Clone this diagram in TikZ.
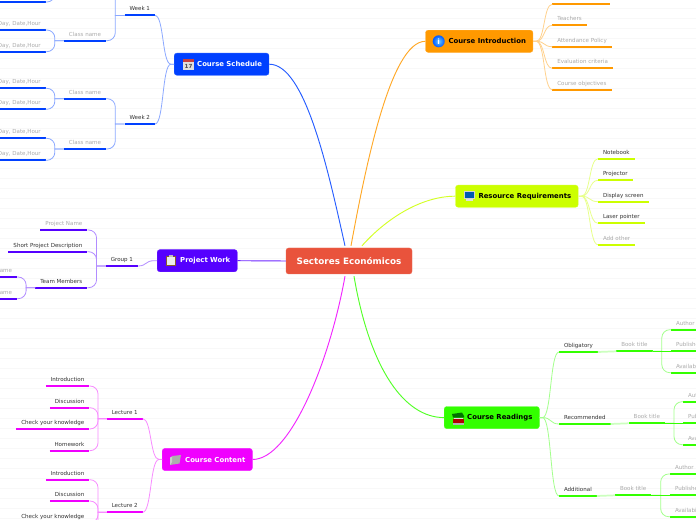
\documentclass[tikz,border=0pt]{standalone}
\usepackage{fontspec}
\setmainfont{DejaVu Sans}
\usetikzlibrary{calc}
\definecolor{rootc}{HTML}{E9533C}
\definecolor{schedc}{HTML}{0040FF}
\definecolor{introc}{HTML}{FF9900}
\definecolor{resc}{HTML}{CCFF00}
\definecolor{readc}{HTML}{33FF00}
\definecolor{projc}{HTML}{5500FF}
\definecolor{contc}{HTML}{F000FF}
\definecolor{line}{HTML}{F8F8F8}
\definecolor{ink}{HTML}{333333}
\definecolor{soft}{HTML}{ABABAB}
\tikzset{
  mainnode/.style={draw=#1!85!white,fill=#1,rounded corners=2pt,line width=.3pt,anchor=west,minimum height=16.6pt,inner xsep=5.25pt,inner ysep=0pt,font=\bfseries\fontsize{5.17}{6}\selectfont},
  leaf/.style={font=\fontsize{4.15}{5}\selectfont,text=ink,inner xsep=3.75pt,inner ysep=2.4pt,outer sep=0pt,text height=3.6pt,text depth=1pt,
    append after command={(\tikzlastnode.south west) edge[draw=#1,line width=1.5pt] (\tikzlastnode.south east)}},
  leafr/.style={leaf=#1,anchor=south west},
  leafl/.style={leaf=#1,anchor=south east},
  muted/.style={text=soft},
  linkr/.style={draw=#1!45,line width=.6pt,to path={-- ++(3,0) .. controls +(9,0) and ($(\tikztotarget)+(-9,0)$) .. (\tikztotarget)}},
  linkl/.style={draw=#1!45,line width=.6pt,to path={-- ++(-3,0) .. controls +(-9,0) and ($(\tikztotarget)+(9,0)$) .. (\tikztotarget)}},
  fork/.style={draw=#1!45,line width=.6pt,to path={-- ($(\tikztostart)!.5!(\tikztostart -| \tikztotarget)$) [rounded corners=6pt] |- (\tikztotarget)}},
  band/.style={draw=#1!25,line width=1.3pt},
  rootlink/.style={draw=#1!85,line width=.7pt}
}

\begin{document}
\begin{tikzpicture}[x=.75pt,y=-.75pt]
\useasboundingbox (0,0) rectangle (696,520);
\clip (0,0) rectangle (696,520);
\fill[white] (0,0) rectangle (696,520);
\foreach \gy in {8,18,...,518} \draw[line,line width=.4pt] (0,\gy.3) -- (696,\gy.3);

% centre
\node[draw=rootc!85!white,fill=rootc,rounded corners=2pt,line width=.3pt,minimum width=94.5pt,minimum height=19.5pt,inner sep=0pt,text=white,font=\bfseries\fontsize{6.6}{8}\selectfont] (root) at (349,261) {Sectores Económicos};

% main branches
\node[mainnode=schedc,text=white] (sched) at (174,64.2) {\hspace*{12pt}Course Schedule};
\node[mainnode=introc,text=black] (intro) at (425.3,41.3) {\hspace*{12pt}Course Introduction};
\node[mainnode=resc,text=black] (res) at (455.3,196.2) {\hspace*{12pt}Resource Requirements};
\node[mainnode=readc,text=black] (read) at (444,417.6) {\hspace*{12pt}Course Readings};
\node[mainnode=projc,text=white] (proj) at (157,260.7) {\hspace*{12pt}Project Work};
\node[mainnode=contc,text=white] (cont) at (162,459.5) {\hspace*{12pt}Course Content};

% icons
\fill[gray!25] (183,59) rectangle (194,70);
\fill[red!70!black!75] (183,59) rectangle (194,62.5);
\node[inner sep=0pt,font=\bfseries\fontsize{4.2}{5}\selectfont,text=black!70] (calday) at (188.5,66.4) {17};
\shade[inner color=blue!35!cyan!60,outer color=blue!65!cyan] (438.7,41.3) circle (6);
\node[inner sep=0pt,font=\bfseries\fontsize{5.5}{6}\selectfont,text=white] (infoi) at (438.7,41.3) {i};
\fill[gray!35] (464,191) rectangle (474.5,199.5);
\fill[blue!50!cyan!70!black] (465,192) rectangle (473.5,198.5);
\fill[gray!25] (466,199.5) rectangle (472.5,201.5);
\fill[gray!60] (453,422.5) rectangle (464,424.5);
\fill[red!70!black] (453,419) rectangle (464,422.5);
\fill[gray!25] (454,417.5) rectangle (463,419);
\fill[green!45!black] (452,414) -- (462,412.5) -- (464,416) -- (464,417.5) -- (453,417.5) -- cycle;
\fill[brown!70!black] (165.7,256) rectangle (176,266);
\fill[gray!15] (167,257) rectangle (174.8,265);
\fill[gray!50] (168.5,255) rectangle (173.3,257);
\fill[gray!65] (172,456) -- (181,455) -- (179.5,463.5) -- (170,465) -- cycle;
\fill[gray!40] (170,457.5) -- (172,456.5) -- (172,462) -- (170,465) -- cycle;

% course schedule
\node[leafl=schedc] (week1) at (155,15.5) {Week 1};
\node[leafl=schedc] (week2) at (155,124) {Week 2};
\coordinate (class0) at (106,-9.7);
\coordinate (class9) at (64,-9.7);
\node[leafl=schedc,muted] (class1) at (106,40.7) {Class name};
\node[leafl=schedc,muted] (class2) at (106,98.7) {Class name};
\node[leafl=schedc,muted] (class3) at (106,149) {Class name};
\node[leafl=schedc,muted,minimum width=48pt] (slot0) at (45.7,2) {};
\node[leafl=schedc,muted] (slot1) at (45.7,30) {Day, Date,Hour};
\node[leafl=schedc,muted] (slot2) at (45.7,51.7) {Day, Date,Hour};
\node[leafl=schedc,muted] (slot3) at (45.7,88.3) {Day, Date,Hour};
\node[leafl=schedc,muted] (slot4) at (45.7,109.3) {Day, Date,Hour};
\node[leafl=schedc,muted] (slot5) at (45.7,138.3) {Day, Date,Hour};
\node[leafl=schedc,muted] (slot6) at (45.7,160.3) {Day, Date,Hour};
\foreach \a in {week1,week2} \draw[linkl=schedc] (sched.west) to (\a.south east);
\draw[fork=schedc] (week1.south west) to (class0);
\foreach \a/\b in {week1/class1,week2/class2,week2/class3,class1/slot1,class1/slot2,class2/slot3,class2/slot4,class3/slot5,class3/slot6}
  \draw[fork=schedc] (\a.south west) to (\b.south east);
\draw[fork=schedc] (class9) to (slot0.south east);

% project work
\node[leafl=projc] (group1) at (138,266) {Group 1};
\node[leafl=projc,muted] (pname) at (87.3,230) {Project Name};
\node[leafl=projc] (pdesc) at (87.3,251.7) {Short Project Description};
\node[leafl=projc] (team) at (87.3,287.7) {Team Members};
\node[leafl=projc,muted] (name1) at (17,277) {Name};
\node[leafl=projc,muted] (name2) at (17,298.7) {Name};
\draw[linkl=projc] (proj.west) to (group1.south east);
\foreach \a/\b in {group1/pname,group1/pdesc,group1/team,team/name1,team/name2}
  \draw[fork=projc] (\a.south west) to (\b.south east);

% course content
\node[leafl=contc] (lect1) at (142.7,418.7) {Lecture 1};
\node[leafl=contc] (lect2) at (142.7,512.3) {Lecture 2};
\node[leafl=contc] (intro1) at (89.3,386) {Introduction};
\node[leafl=contc] (disc1) at (89.3,407.7) {Discussion};
\node[leafl=contc] (check1) at (89.3,429) {Check your knowledge};
\node[leafl=contc] (home1) at (89.3,450.7) {Homework};
\node[leafl=contc] (intro2) at (89.3,479.7) {Introduction};
\node[leafl=contc] (disc2) at (89.3,501) {Discussion};
\node[leafl=contc] (check2) at (89.3,522.7) {Check your knowledge};
\coordinate (home2) at (89.3,544);
\foreach \a in {lect1,lect2} \draw[linkl=contc] (cont.west) to (\a.south east);
\foreach \a/\b in {lect1/intro1,lect1/disc1,lect1/check1,lect1/home1,lect2/intro2,lect2/disc2,lect2/check2}
  \draw[fork=contc] (\a.south west) to (\b.south east);
\draw[fork=contc] (lect2.south west) to (home2);

% course introduction
\node[leafr=introc,minimum width=43.5pt] (blank) at (552.3,4.3) {};
\node[leafr=introc,muted] (teach) at (552.3,25.3) {Teachers};
\node[leafr=introc,muted] (attend) at (552.3,46.7) {Attendance Policy};
\node[leafr=introc,muted] (eval) at (552.3,68.3) {Evaluation criteria};
\node[leafr=introc,muted] (object) at (552.3,89.7) {Course objectives};
\foreach \b in {blank,teach,attend,eval,object} \draw[linkr=introc] (intro.east) to (\b.south west);

% resource requirements
\node[leafr=resc] (note) at (598,158.7) {Notebook};
\node[leafr=resc] (proj1) at (598,180.3) {Projector};
\node[leafr=resc] (screen) at (598,201.7) {Display screen};
\node[leafr=resc] (laser) at (598,223.3) {Laser pointer};
\node[leafr=resc,muted] (addo) at (598,244.7) {Add other};
\foreach \b in {note,proj1,screen,laser,addo} \draw[linkr=resc] (res.east) to (\b.south west);

% course readings
\node[leafr=readc] (oblig) at (559,352) {Obligatory};
\node[leafr=readc] (recom) at (559,424) {Recommended};
\node[leafr=readc] (addit) at (559,496) {Additional};
\node[leafr=readc,muted] (book1) at (616.3,351.3) {Book title};
\node[leafr=readc,muted] (book2) at (628.7,423.3) {Book title};
\node[leafr=readc,muted] (book3) at (615,495.3) {Book title};
\node[leafr=readc,muted] (auth1) at (671,329.7) {Author};
\node[leafr=readc,muted] (publ1) at (671,351.3) {Publisher};
\node[leafr=readc,muted] (avai1) at (671,372.7) {Availability};
\node[leafr=readc,muted] (auth2) at (683,401.7) {Author};
\node[leafr=readc,muted] (publ2) at (683,423.3) {Publisher};
\node[leafr=readc,muted] (avai2) at (683,444.7) {Availability};
\node[leafr=readc,muted] (auth3) at (670,474) {Author};
\node[leafr=readc,muted] (publ3) at (670,495.3) {Publisher};
\node[leafr=readc,muted] (avai3) at (670,516.7) {Availability};
\foreach \b in {oblig,recom,addit} \draw[linkr=readc] (read.east) to (\b.south west);
\foreach \a/\b in {oblig/book1,recom/book2,addit/book3} \draw[band=readc] (\a.south east) -- (\b.south west);
\foreach \a/\b in {book1/auth1,book1/avai1,book2/auth2,book2/avai2,book3/auth3,book3/avai3}
  \draw[fork=readc] (\a.south east) to (\b.south west);
\foreach \a/\b in {book1/publ1,book2/publ2,book3/publ3}
  \draw[draw=readc,line width=.6pt] (\a.south east) -- (\b.south west);

% links from the centre
\draw[rootlink=schedc] ($(root.north)+(-4,-2)$) .. controls +(-17,-76) and +(36,0) .. (sched.east);
\draw[rootlink=introc] ($(root.north)+(2,-2)$) .. controls +(14,-76) and +(-35,0) .. (intro.west);
\draw[rootlink=resc] ($(root.north)+(13,-2)$) .. controls +(23,-26) and +(-35,0) .. (res.west);
\draw[rootlink=projc] (root.west) -- (proj.east);
\draw[rootlink=contc] ($(root.south)+(-4,2)$) .. controls +(-15,84) and +(38,0) .. (cont.east);
\draw[rootlink=readc] ($(root.south)+(5,2)$) .. controls +(16,94) and +(-39,0) .. (read.west);
\end{tikzpicture}
\end{document}
